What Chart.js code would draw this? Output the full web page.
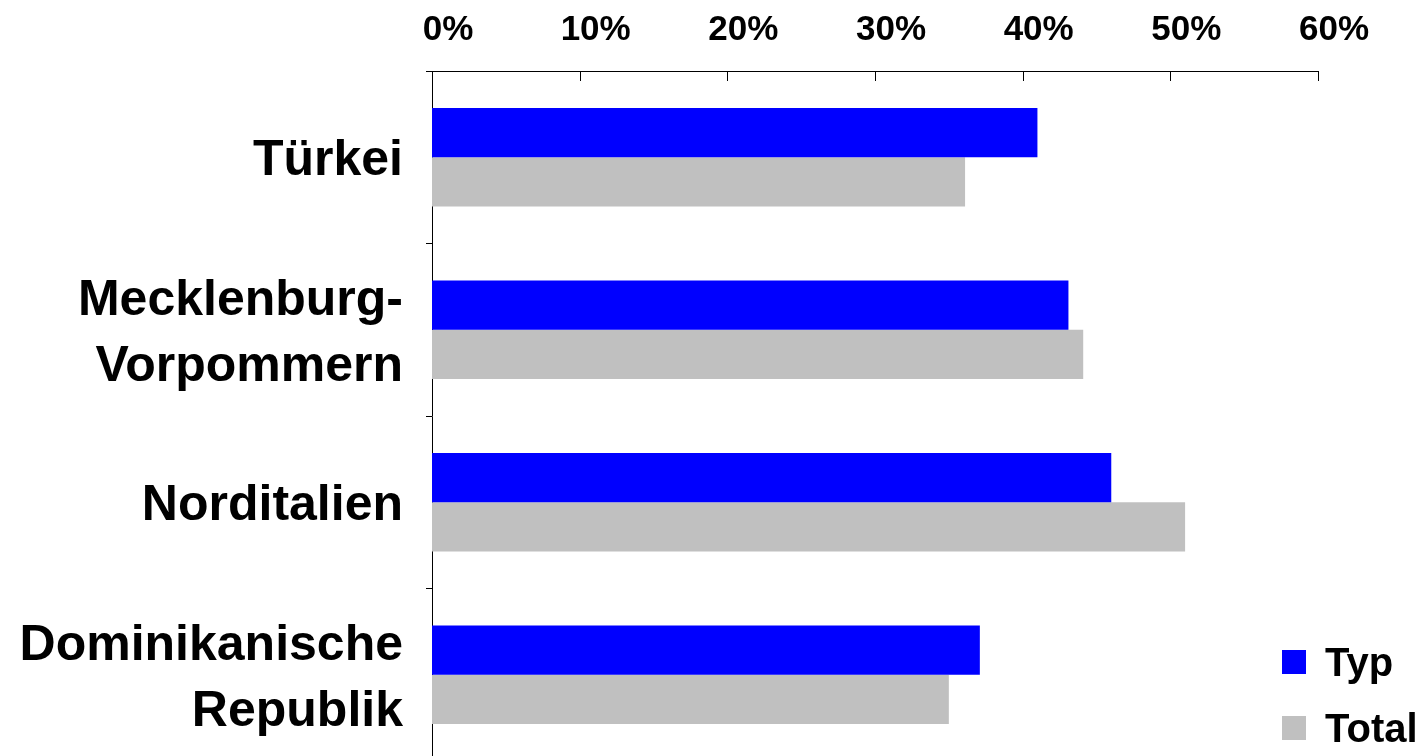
<!DOCTYPE html>
<html>
<head>
<meta charset="utf-8">
<script src="https://cdn.jsdelivr.net/npm/chart.js@4/dist/chart.umd.min.js"></script>
<style>
  html, body { margin: 0; padding: 0; background: #fff; overflow: hidden; }
  #wrap { position: relative; width: 1425px; height: 756px; overflow: hidden; }
  #box { position: absolute; left: 0; top: 0; width: 1425px; height: 762px; }
  #legend { position: absolute; left: 1282px; top: 629px; font: bold 40px "Liberation Sans", Arial, sans-serif; color: #000; }
  #legend div { height: 66px; display: flex; align-items: center; }
  #legend span.sw { display: inline-block; width: 24px; height: 24px; margin-right: 19px; }
</style>
</head>
<body>
<div id="wrap">
  <div id="box"><canvas id="chart"></canvas></div>
  <div id="legend"></div>
</div>
<script>
// Data
const categories = [
  "Türkei",
  ["Mecklenburg-", "Vorpommern"],
  "Norditalien",
  ["Dominikanische", "Republik"],
];
const typValues = [41, 43.1, 46, 37.1];
const totalValues = [36.1, 44.1, 51, 35];
const xTicks = [0, 10, 20, 30, 40, 50, 60];

const FONT = "'Liberation Sans', Arial, sans-serif";

// small tick marks pointing down into the plot from the top axis
const innerTicks = {
  id: "innerTicks",
  afterDatasetsDraw(chart) {
    const x = chart.scales.x;
    const top = chart.chartArea.top;
    const c = chart.ctx;
    c.save();
    c.strokeStyle = "#000";
    c.lineWidth = 1;
    x.ticks.forEach((t, i) => {
      const px = Math.round(x.getPixelForTick(i)) + 0.5;
      c.beginPath();
      c.moveTo(px, top);
      c.lineTo(px, top + 10);
      c.stroke();
    });
    c.restore();
  },
};

const ctx = document.getElementById("chart").getContext("2d");
const chart = new Chart(ctx, {
  type: "bar",
  data: {
    labels: categories,
    datasets: [
      {
        label: "Typ",
        data: typValues,
        backgroundColor: "#0000FF",
        barPercentage: 1.0,
        categoryPercentage: 0.57,
      },
      {
        label: "Total",
        data: totalValues,
        backgroundColor: "#C0C0C0",
        barPercentage: 1.0,
        categoryPercentage: 0.57,
      },
    ],
  },
  options: {
    indexAxis: "y",
    responsive: true,
    maintainAspectRatio: false,
    animation: false,
    layout: { padding: { top: 0, right: 107, bottom: 1, left: 0 } },
    plugins: {
      legend: { display: false },
      title: { display: false },
      tooltip: { enabled: false },
    },
    scales: {
      x: {
        position: "top",
        min: 0,
        max: 60,
        afterBuildTicks: (scale) => {
          scale.ticks = xTicks.map((v) => ({ value: v }));
        },
        afterFit: (scale) => {
          scale.height = 71;
          scale.paddingLeft = 0;
        },
        ticks: {
          callback: (v) => v + "%",
          color: "#000",
          font: { family: FONT, size: 35, weight: "bold" },
          labelOffset: 16,
          padding: 12,
          maxRotation: 0,
        },
        grid: { display: false },
        border: { display: true, color: "#000", width: 1 },
      },
      y: {
        afterFit: (scale) => {
          scale.width = 432;
          scale.paddingTop = 0;
          scale.paddingBottom = 0;
        },
        ticks: {
          color: "#000",
          font: { family: FONT, size: 50, weight: "bold", lineHeight: 1.32 },
          padding: 23,
          labelOffset: 4,
        },
        grid: {
          drawOnChartArea: false,
          tickLength: 6,
          color: "#000",
          offset: true,
        },
        border: { display: true, color: "#000", width: 1 },
      },
    },
  },
  plugins: [innerTicks],
});

// Legend
const legend = document.getElementById("legend");
chart.data.datasets.forEach((ds) => {
  const row = document.createElement("div");
  const sw = document.createElement("span");
  sw.className = "sw";
  sw.style.background = ds.backgroundColor;
  row.appendChild(sw);
  row.appendChild(document.createTextNode(ds.label));
  legend.appendChild(row);
});
</script>
</body>
</html>
